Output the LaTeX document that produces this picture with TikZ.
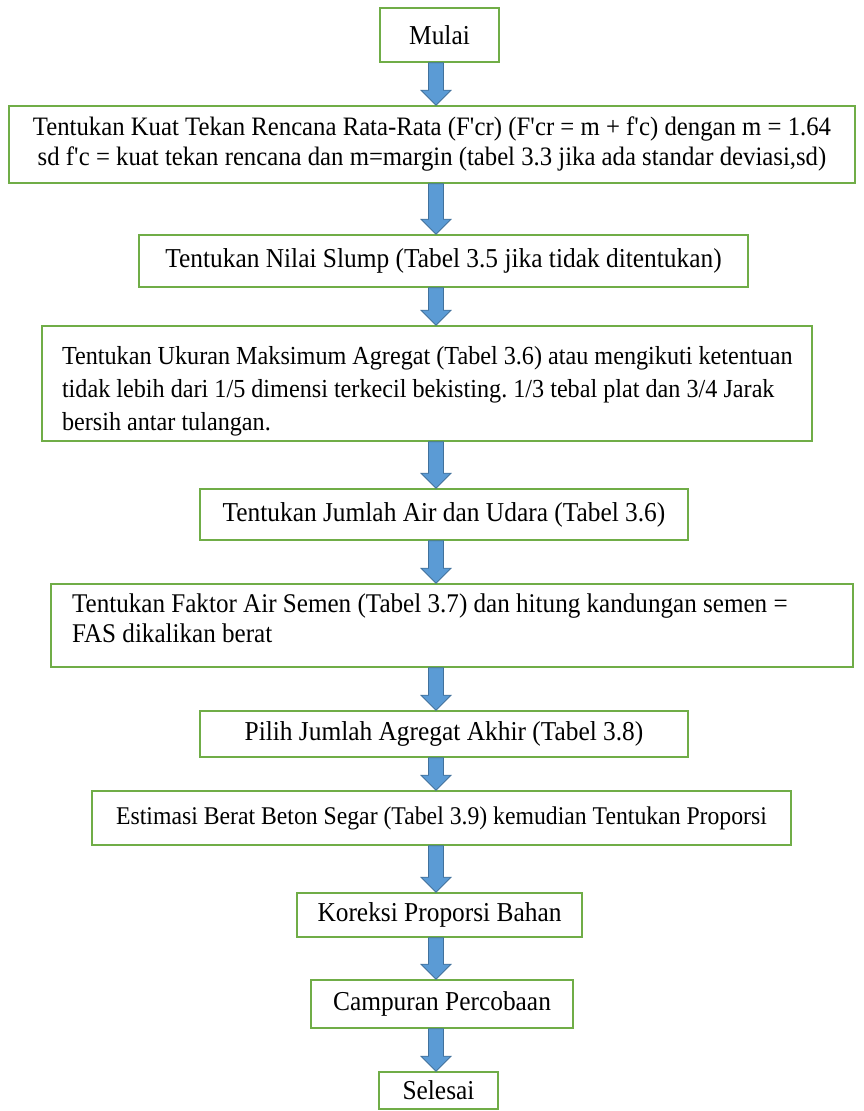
\documentclass[tikz,border=0pt]{standalone}
\usepackage{fontspec}
\setmainfont{Liberation Serif}[FakeStretch=0.93]
\usetikzlibrary{calc}
\frenchspacing
\definecolor{boxgreen}{RGB}{112,173,71}
\definecolor{arrowfill}{RGB}{91,155,213}
\definecolor{arrowedge}{RGB}{65,113,156}
\newcommand{\q}{\textquotesingle}
\newcommand{\blockarrow}[2]{%
  \path[blockarr] let \p1=(#1.south), \p2=(#2.north) in
   (428.5pt,\y1) -- (443.5pt,\y1) -- (443.5pt,\y2+15pt) -- (451pt,\y2+15pt) --
   (436pt,\y2) -- (421pt,\y2+15pt) -- (428.5pt,\y2+15pt) -- cycle;}
\begin{document}
\begin{tikzpicture}[x=1pt,y=-1pt,
  box/.style={draw=boxgreen, line width=1.6pt, fill=white, inner sep=0pt,
    font=\fontsize{27.3}{30}\selectfont, align=center},
  leftbox/.style={box, align=flush left},
  blockarr/.style={fill=arrowfill, draw=arrowedge, line width=0.8pt, line join=miter}]
\useasboundingbox[fill=white] (0,0) rectangle (864,1111);
\node[box, minimum width=119pt, minimum height=54pt] (n1) at (439.5,35) {Mulai};
\node[box, font=\fontsize{26.6}{30}\selectfont, minimum width=846pt, minimum height=77pt] (n2) at (432,144.5)
  {Tentukan Kuat Tekan Rencana Rata-Rata (F\q cr) (F\q cr = m + f\q c) dengan m = 1.64\\
   sd f\q c = kuat tekan rencana dan m=margin (tabel 3.3 jika ada standar deviasi,sd)};
\node[box, minimum width=609pt, minimum height=52pt] (n3) at (443.5,261)
  {Tentukan Nilai Slump (Tabel 3.5 jika tidak ditentukan)};
\node[leftbox, font=\fontsize{26}{33}\selectfont, inner xsep=20pt, text width=730pt,
  minimum height=115pt] (n4) at (427,383.5)
  {\rule{0pt}{34pt}\mbox{Tentukan Ukuran Maksimum Agregat (Tabel 3.6) atau mengikuti ketentuan}\\
   \mbox{tidak lebih dari 1/5 dimensi terkecil bekisting. 1/3 tebal plat dan 3/4 Jarak}\\
   bersih antar tulangan.};
\node[leftbox, font=\fontsize{27}{30}\selectfont, inner xsep=21pt, text width=760pt,
  minimum height=83pt] (n6) at (452,625.5)
  {\mbox{Tentukan Faktor Air Semen (Tabel 3.7) dan hitung kandungan semen =}\\
   FAS dikalikan berat\rule[-14pt]{0pt}{14pt}};
\node[box, minimum width=488pt, minimum height=51pt] (n5) at (444,514.5)
  {Tentukan Jumlah Air dan Udara (Tabel 3.6)};
\node[box, minimum width=488pt, minimum height=46pt] (n7) at (444,734)
  {Pilih Jumlah Agregat Akhir (Tabel 3.8)};
\node[box, font=\fontsize{25.5}{30}\selectfont, minimum width=699pt, minimum height=54pt] (n8) at (441.5,818)
  {Estimasi Berat Beton Segar (Tabel 3.9) kemudian Tentukan Proporsi};
\node[box, minimum width=285pt, minimum height=44pt] (n9) at (439.5,915)
  {Koreksi Proporsi Bahan};
\node[box, minimum width=262pt, minimum height=48pt] (n10) at (442,1004)
  {Campuran Percobaan};
\node[box, minimum width=119pt, minimum height=37pt] (n11) at (438.5,1090.5)
  {Selesai};
\blockarrow{n1}{n2}
\blockarrow{n2}{n3}
\blockarrow{n3}{n4}
\blockarrow{n4}{n5}
\blockarrow{n5}{n6}
\blockarrow{n6}{n7}
\blockarrow{n7}{n8}
\blockarrow{n8}{n9}
\blockarrow{n9}{n10}
\blockarrow{n10}{n11}
\end{tikzpicture}
\end{document}
